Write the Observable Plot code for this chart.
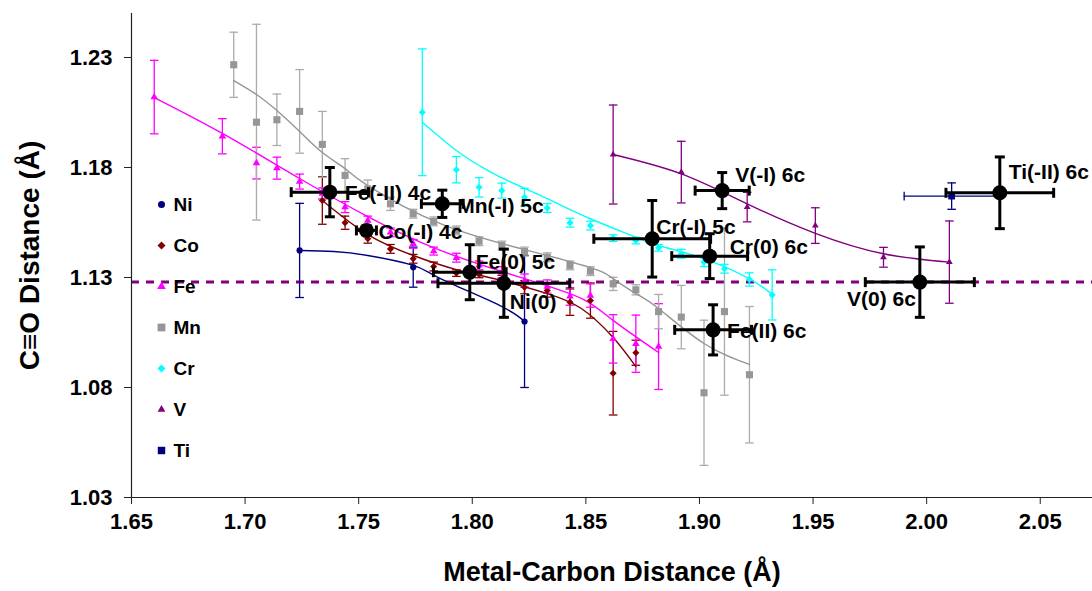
<!DOCTYPE html>
<html><head><meta charset="utf-8">
<script src="https://cdn.jsdelivr.net/npm/d3@7"></script>
<script src="https://cdn.jsdelivr.net/npm/@observablehq/plot@0.6"></script>
<style>
body{margin:0;background:#fff;}
#chart svg{font-family:"Liberation Sans",Arial,sans-serif;}
</style></head><body><div id="chart"></div>
<script>
// ---- axis ticks ----
const xTicks = [1.65, 1.70, 1.75, 1.80, 1.85, 1.90, 1.95, 2.00, 2.05];
const yTicks = [1.03, 1.08, 1.13, 1.18, 1.23];
const freeCO = [1.128];

// ---- Ni ----
const niX = [1.724, 1.774, 1.823];
const niY = [1.1423, 1.1347, 1.1100];
const niErr = [0.0214, 0.0091, 0.030];
const niFitX = [1.724, 1.739, 1.754, 1.774, 1.786, 1.812, 1.823];
const niFitY = [1.1423, 1.1418, 1.1400, 1.1355, 1.1295, 1.1173, 1.1100];

// ---- Co ----
const coX = [1.734, 1.744, 1.754, 1.764, 1.774, 1.783, 1.793, 1.803, 1.813, 1.823, 1.833, 1.843, 1.852, 1.862, 1.872];
const coY = [1.1650, 1.1549, 1.1476, 1.1430, 1.1385, 1.1350, 1.1320, 1.1314, 1.1290, 1.1256, 1.1241, 1.1188, 1.1195, 1.0865, 1.0958];
const coErr = [0.0108, 0.003, 0.002, 0.002, 0.002, 0.002, 0.0015, 0.0015, 0.002, 0.003, 0.003, 0.006, 0.008, 0.019, 0.0057];
const coFitX = [1.734, 1.754, 1.774, 1.793, 1.813, 1.833, 1.848, 1.862, 1.872];
const coFitY = [1.1650, 1.1495, 1.1400, 1.1336, 1.1286, 1.1227, 1.1159, 1.1027, 1.0895];

// ---- Fe ----
const feX = [1.660, 1.690, 1.705, 1.714, 1.724, 1.734, 1.744, 1.754, 1.764, 1.774, 1.783, 1.793, 1.803, 1.813, 1.823, 1.833, 1.843, 1.852, 1.862, 1.872, 1.882];
const feY = [1.2120, 1.1942, 1.1820, 1.1797, 1.1736, 1.1682, 1.1620, 1.1559, 1.1505, 1.1453, 1.1420, 1.1390, 1.1355, 1.1324, 1.1286, 1.1259, 1.1214, 1.1218, 1.1021, 1.0999, 1.0986];
const feErr = [0.0167, 0.0080, 0.0072, 0.0050, 0.0034, 0.0025, 0.0025, 0.0020, 0.0020, 0.0020, 0.0018, 0.0020, 0.0020, 0.0025, 0.0030, 0.0030, 0.0040, 0.0053, 0.0110, 0.0130, 0.0195];
const feFitX = [1.660, 1.690, 1.724, 1.754, 1.786, 1.823, 1.848, 1.862, 1.882];
const feFitY = [1.2118, 1.1955, 1.1750, 1.1577, 1.1423, 1.1295, 1.1205, 1.1105, 1.0959];

// ---- Mn ----
const mnX = [1.695, 1.705, 1.714, 1.724, 1.734, 1.744, 1.754, 1.764, 1.774, 1.783, 1.793, 1.803, 1.813, 1.823, 1.833, 1.843, 1.852, 1.862, 1.872, 1.882, 1.892, 1.902, 1.911, 1.922];
const mnY = [1.2267, 1.2006, 1.2017, 1.2055, 1.1905, 1.1764, 1.1703, 1.1635, 1.1590, 1.1555, 1.1514, 1.1465, 1.1445, 1.1418, 1.1392, 1.1355, 1.1329, 1.1271, 1.1244, 1.1145, 1.1120, 1.0776, 1.1145, 1.0858];
const mnErr = [0.0148, 0.0445, 0.0117, 0.019, 0.015, 0.0076, 0.004, 0.003, 0.002, 0.002, 0.002, 0.002, 0.002, 0.002, 0.002, 0.002, 0.002, 0.003, 0.0023, 0.0078, 0.0144, 0.033, 0.038, 0.031];
const mnFitX = [1.695, 1.705, 1.714, 1.724, 1.734, 1.744, 1.754, 1.786, 1.823, 1.852, 1.862, 1.872, 1.882, 1.902, 1.922];
const mnFitY = [1.2195, 1.2132, 1.2059, 1.1964, 1.1868, 1.1795, 1.1718, 1.1545, 1.1427, 1.1345, 1.1295, 1.1227, 1.1159, 1.1000, 1.0905];

// ---- Cr ----
const crX = [1.778, 1.793, 1.803, 1.813, 1.823, 1.833, 1.843, 1.852, 1.862, 1.872, 1.882, 1.892, 1.902, 1.911, 1.922, 1.932];
const crY = [1.2051, 1.1790, 1.1710, 1.1695, 1.1665, 1.1616, 1.1549, 1.1536, 1.1479, 1.1468, 1.1435, 1.1408, 1.1370, 1.1340, 1.1291, 1.1221];
const crErr = [0.0288, 0.006, 0.0044, 0.0034, 0.004, 0.002, 0.002, 0.002, 0.0015, 0.0015, 0.0015, 0.002, 0.002, 0.002, 0.003, 0.0114];
const crFitX = [1.778, 1.793, 1.803, 1.813, 1.833, 1.852, 1.872, 1.882, 1.902, 1.922, 1.932];
const crFitY = [1.2006, 1.1877, 1.1809, 1.1753, 1.1658, 1.1567, 1.1483, 1.1445, 1.1385, 1.1294, 1.1223];

// ---- V ----
const vX = [1.862, 1.892, 1.921, 1.951, 1.981, 2.010];
const vY = [1.1859, 1.1779, 1.1620, 1.1536, 1.1392, 1.1370];
const vErr = [0.0225, 0.014, 0.0067, 0.0081, 0.0045, 0.0187];
const vFitX = [1.862, 1.892, 1.921, 1.951, 1.981, 2.010];
const vFitY = [1.1859, 1.1771, 1.1635, 1.1501, 1.1408, 1.1370];

// ---- Ti ----
const tiX = [2.011];
const tiY = [1.1670];
const tiErr = [0.006];
const tiErrX = [0.0209];

// ---- experimental reference points ----
const expLabels = ["Fe(-II) 4c", "Mn(-I) 5c", "Co(-I) 4c", "Fe(0) 5c", "Ni(0)", "Cr(-I) 5c", "Cr(0) 6c", "Fe(II) 6c", "V(-I) 6c", "V(0) 6c", "Ti(-II) 6c"];
const expX = [1.7373, 1.7868, 1.7534, 1.7989, 1.8139, 1.8792, 1.9045, 1.9060, 1.9100, 1.9970, 2.0322];
const expY = [1.1688, 1.1635, 1.1514, 1.1324, 1.1274, 1.1476, 1.1397, 1.1062, 1.1695, 1.1279, 1.1685];
const expErrX = [0.017, 0.0092, 0.0044, 0.016, 0.029, 0.0257, 0.0167, 0.0169, 0.0119, 0.024, 0.0237];
const expErrY = [0.0112, 0.0062, 0.002, 0.0125, 0.0155, 0.0174, 0.0102, 0.0114, 0.0082, 0.016, 0.0163];

// ---- label layout (pixel offsets, not data) ----
const labelLayout = [[15,1,"start"],[15,2,"start"],[12,2,"start"],[6,-10,"start"],[6,19,"start"],[4,-12,"start"],[20,-9,"start"],[14,1,"start"],[13,-15,"start"],[-4,17,"end"],[9,-21,"start"]];

// ---- build ----
const rows = (xs, ys, es) => xs.map((x, i) => ({x, y: ys[i], e: es ? es[i] : 0}));
const pts = (xs, ys) => xs.map((x, i) => ({x, y: ys[i]}));
const fmt = d3.format(".2f");

const series = [
  {name: "Ni", color: "#000080", bar: "#000080", symbol: "circle", r: 3.1, data: rows(niX, niY, niErr), fit: pts(niFitX, niFitY)},
  {name: "Co", color: "#800000", bar: "#800000", symbol: "diamond2", r: 3.2, data: rows(coX, coY, coErr), fit: pts(coFitX, coFitY)},
  {name: "Fe", color: "#FF00FF", bar: "#FF00FF", symbol: "triangle", r: 2.8, data: rows(feX, feY, feErr), fit: pts(feFitX, feFitY)},
  {name: "Mn", color: "#969696", bar: "#ABABAB", symbol: "square", r: 4.0, data: rows(mnX, mnY, mnErr), fit: pts(mnFitX, mnFitY)},
  {name: "Cr", color: "#00FFFF", bar: "#00FFFF", symbol: "diamond2", r: 3.2, data: rows(crX, crY, crErr), fit: pts(crFitX, crFitY)},
  {name: "V", color: "#800080", bar: "#800080", symbol: "triangle", r: 2.5, data: rows(vX, vY, vErr), fit: pts(vFitX, vFitY)},
  {name: "Ti", color: "#000080", bar: "#000080", symbol: "square", r: 3.8, data: rows(tiX, tiY, tiErr), fit: null}
];

const capH = {draw(ctx, size) { const w = Math.sqrt(size / Math.PI); ctx.moveTo(-w, 0); ctx.lineTo(w, 0); }};
const capV = {draw(ctx, size) { const w = Math.sqrt(size / Math.PI); ctx.moveTo(0, -w); ctx.lineTo(0, w); }};

const marks = [];
// free CO reference line
marks.push(Plot.ruleY(freeCO, {stroke: "#800080", strokeWidth: 3, strokeDasharray: "8,7"}));

// error bars
for (const s of series) {
  marks.push(Plot.ruleX(s.data, {x: "x", y1: d => d.y - d.e, y2: d => d.y + d.e, stroke: s.bar, strokeWidth: 1.3}));
  marks.push(Plot.dot(s.data, {x: "x", y: d => d.y - d.e, symbol: capH, r: 4.3, fill: "none", stroke: s.bar, strokeWidth: 1.3}));
  marks.push(Plot.dot(s.data, {x: "x", y: d => d.y + d.e, symbol: capH, r: 4.3, fill: "none", stroke: s.bar, strokeWidth: 1.3}));
}
// Ti horizontal error bar
const tiRows = tiX.map((x, i) => ({x, y: tiY[i], ex: tiErrX[i]}));
marks.push(Plot.ruleY(tiRows, {y: "y", x1: d => d.x - d.ex, x2: d => d.x + d.ex, stroke: "#000080", strokeWidth: 1.3}));
marks.push(Plot.dot(tiRows, {x: d => d.x - d.ex, y: "y", symbol: capV, r: 4.3, fill: "none", stroke: "#000080", strokeWidth: 1.3}));
marks.push(Plot.dot(tiRows, {x: d => d.x + d.ex, y: "y", symbol: capV, r: 4.3, fill: "none", stroke: "#000080", strokeWidth: 1.3}));

// fitted curves
for (const s of series) if (s.fit) marks.push(Plot.line(s.fit, {x: "x", y: "y", stroke: s.color, strokeWidth: 1.4, curve: "natural"}));
// markers
for (const s of series) marks.push(Plot.dot(s.data, {x: "x", y: "y", symbol: s.symbol, r: s.r, fill: s.color, stroke: "none"}));

// experimental points
const expRows = expLabels.map((label, i) => ({label, x: expX[i], y: expY[i], ex: expErrX[i], ey: expErrY[i]}));
marks.push(Plot.ruleY(expRows, {y: "y", x1: d => d.x - d.ex, x2: d => d.x + d.ex, stroke: "black", strokeWidth: 3}));
marks.push(Plot.ruleX(expRows, {x: "x", y1: d => d.y - d.ey, y2: d => d.y + d.ey, stroke: "black", strokeWidth: 3}));
marks.push(Plot.dot(expRows, {x: d => d.x - d.ex, y: "y", symbol: capV, r: 5, fill: "none", stroke: "black", strokeWidth: 3}));
marks.push(Plot.dot(expRows, {x: d => d.x + d.ex, y: "y", symbol: capV, r: 5, fill: "none", stroke: "black", strokeWidth: 3}));
marks.push(Plot.dot(expRows, {x: "x", y: d => d.y - d.ey, symbol: capH, r: 5, fill: "none", stroke: "black", strokeWidth: 3}));
marks.push(Plot.dot(expRows, {x: "x", y: d => d.y + d.ey, symbol: capH, r: 5, fill: "none", stroke: "black", strokeWidth: 3}));
marks.push(Plot.dot(expRows, {x: "x", y: "y", r: 7.5, fill: "black", stroke: "none"}));
expRows.forEach((d, i) => {
  const [dx, dy, anchor] = labelLayout[i];
  marks.push(Plot.text([d], {x: "x", y: "y", text: "label", dx, dy, textAnchor: anchor, lineAnchor: "middle", fontSize: 21, fontWeight: "bold", fill: "black"}));
});

// legend (inside plot)
series.forEach((s, i) => {
  marks.push(Plot.dot([s], {frameAnchor: "top-left", dx: 30, dy: 191 + 41 * i, symbol: s.symbol, r: s.r + 0.4, fill: s.color, stroke: "none"}));
  marks.push(Plot.text([s.name], {frameAnchor: "top-left", dx: 42, dy: 191 + 41 * i, textAnchor: "start", lineAnchor: "middle", fontSize: 19, fontWeight: "bold", fill: "black"}));
});

// axes: lines, ticks and bold tick labels
marks.push(Plot.ruleY([yTicks[0]], {stroke: "#222", strokeWidth: 1.2}));
marks.push(Plot.ruleX([xTicks[0]], {stroke: "#222", strokeWidth: 1.2}));
marks.push(Plot.axisX(xTicks, {tickSize: 7, tickFormat: () => "", label: null, stroke: "#222"}));
marks.push(Plot.axisY(yTicks, {tickSize: 7, tickFormat: () => "", label: null, stroke: "#222"}));
marks.push(Plot.text(xTicks, {x: d => d, text: d => fmt(d), frameAnchor: "bottom", dy: 24, lineAnchor: "middle", textAnchor: "middle", fontSize: 22, fontWeight: "bold", fill: "black"}));
marks.push(Plot.text(yTicks, {y: d => d, text: d => fmt(d), frameAnchor: "left", dx: -19, lineAnchor: "middle", textAnchor: "end", fontSize: 22, fontWeight: "bold", fill: "black"}));
marks.push(Plot.text(["Metal-Carbon Distance (Å)"], {frameAnchor: "bottom", dy: 75, lineAnchor: "middle", textAnchor: "middle", fontSize: 27, fontWeight: "bold", fill: "black"}));
marks.push(Plot.text(["C≡O Distance (Å)"], {frameAnchor: "left", dx: -101, rotate: -90, lineAnchor: "middle", textAnchor: "middle", fontSize: 28, fontWeight: "bold", fill: "black"}));

const chart = Plot.plot({
  width: 1092, height: 591,
  marginLeft: 131, marginRight: 0, marginTop: 13, marginBottom: 94,
  x: {domain: [1.65, 2.073], label: null},
  y: {domain: [1.03, 1.25], label: null},
  style: {fontFamily: "'Liberation Sans', Arial, sans-serif", fontWeight: "bold", background: "white", color: "black"},
  marks
});
document.getElementById("chart").appendChild(chart);
</script></body></html>
